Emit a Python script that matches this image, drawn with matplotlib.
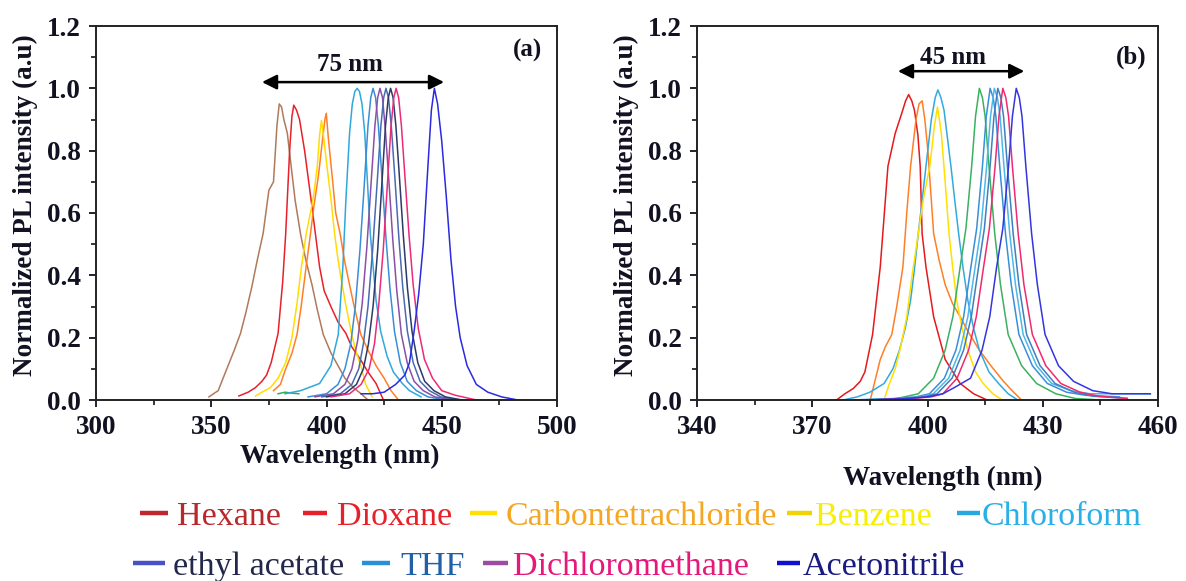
import matplotlib
matplotlib.use("Agg")
import matplotlib.pyplot as plt
from matplotlib.lines import Line2D
from matplotlib.ticker import MultipleLocator, FixedLocator, FormatStrFormatter

plt.rcParams['font.family'] = ['Liberation Serif', 'DejaVu Serif']

# ---------------- Panel (a) data ----------------
a_hexane_x = [349, 353, 356, 360, 362.7, 365, 367.6, 370, 372.5, 375, 377, 378.5, 379.5, 380.5, 381.5, 383,
              386.4, 388.8, 391, 393.7, 396, 398.6, 402, 405, 408, 411.6, 415, 418]
a_hexane_y = [0.01, 0.03, 0.086, 0.16, 0.214, 0.28, 0.363, 0.45, 0.534, 0.673, 0.70, 0.88, 0.95, 0.94, 0.9,
              0.856, 0.64, 0.53, 0.45, 0.37, 0.29, 0.21, 0.15, 0.11, 0.07, 0.04, 0.02, 0.0]

a_dioxane_x = [362, 366, 369.2, 372, 374, 376, 379, 381, 382.3, 384, 385, 385.8, 387, 388.3, 390.5, 393.7,
               397, 399, 401.9, 405, 408.4, 411, 414.9, 418, 421.5, 424.7]
a_dioxane_y = [0.013, 0.025, 0.04, 0.06, 0.08, 0.12, 0.214, 0.38, 0.534, 0.80, 0.91, 0.946, 0.93, 0.90,
               0.80, 0.62, 0.427, 0.35, 0.30, 0.25, 0.214, 0.17, 0.128, 0.09, 0.053, 0.0]

a_ccl4_x = [369.2, 372, 375.7, 379, 382.3, 385, 387.2, 389, 391.2, 393, 394.5, 396, 397, 397.8, 398.8,
            400.2, 402, 403.5, 405, 406.8, 408.5, 410.8, 413, 414.9, 417, 419.8]
a_ccl4_y = [0.013, 0.025, 0.04, 0.07, 0.12, 0.2, 0.31, 0.42, 0.534, 0.6, 0.66, 0.75, 0.85, 0.897, 0.84,
            0.75, 0.64, 0.534, 0.45, 0.37, 0.3, 0.214, 0.15, 0.11, 0.05, 0.01]

a_benzene_x = [377, 380, 382.3, 385, 387.2, 389, 391.2, 393, 394.5, 396.5, 398.5, 399.3, 399.9, 400.8,
               402.7, 404, 405.9, 408, 410, 412, 414.9, 418, 421.5, 425, 428, 431.2]
a_benzene_y = [0.03, 0.05, 0.1, 0.15, 0.21, 0.3, 0.43, 0.53, 0.62, 0.72, 0.85, 0.9, 0.92, 0.84,
               0.70, 0.6, 0.534, 0.44, 0.37, 0.3, 0.21, 0.16, 0.11, 0.07, 0.03, 0.0]

a_green_x = [379, 382, 385, 388]
a_green_y = [0.02, 0.025, 0.022, 0.02]

a_chloroform_x = [382, 388.8, 397, 401.9, 405.1, 407.1, 408.4, 410, 411.2, 412.3, 413.3, 414.3, 415.4,
                  416.6, 419, 421.5, 423.5, 426.3, 429, 432.9, 436, 441]
a_chloroform_y = [0.02, 0.03, 0.053, 0.11, 0.21, 0.427, 0.64, 0.856, 0.95, 0.99, 1.0, 0.99, 0.95,
                  0.856, 0.534, 0.32, 0.22, 0.14, 0.09, 0.053, 0.03, 0.01]

a_thf_x = [392, 400, 405, 408, 410.5, 412.5, 414.5, 416.3, 418, 419.2, 420.2, 421.3, 422.5, 424, 425.8,
           427.5, 429.5, 432, 435, 439, 444, 452]
a_thf_y = [0.01, 0.02, 0.05, 0.1, 0.18, 0.3, 0.48, 0.68, 0.88, 0.97, 1.0, 0.97, 0.88, 0.72, 0.52,
           0.36, 0.22, 0.12, 0.06, 0.03, 0.01, 0.0]

a_ethyl_x = [395, 403, 408, 411, 413.5, 415.5, 417.5, 419.3, 421, 422.2, 423.2, 424.3, 425.5, 427, 428.8,
             430.5, 432.5, 435, 438, 442, 447, 455]
a_ethyl_y = [0.01, 0.02, 0.05, 0.1, 0.19, 0.31, 0.49, 0.69, 0.88, 0.97, 1.0, 0.97, 0.87, 0.71, 0.51,
             0.35, 0.21, 0.12, 0.06, 0.03, 0.01, 0.0]

a_steel_x = [398, 406, 411, 414, 416, 418, 420, 422, 423.6, 424.8, 425.8, 426.9, 428.1, 429.6, 431.4,
             433.1, 435.1, 437.6, 440.6, 444.6, 449.6, 457]
a_steel_y = [0.01, 0.02, 0.05, 0.1, 0.18, 0.3, 0.48, 0.7, 0.88, 0.97, 1.0, 0.97, 0.88, 0.72, 0.52,
             0.36, 0.22, 0.12, 0.06, 0.03, 0.01, 0.0]

a_navy_x = [400, 408, 413, 416, 418.2, 420.2, 422.2, 424, 425.6, 426.8, 427.8, 428.9, 430.1, 431.6, 433.4,
            435.1, 437.1, 439.6, 442.6, 446.6, 451.6, 459]
a_navy_y = [0.01, 0.02, 0.05, 0.1, 0.18, 0.3, 0.48, 0.69, 0.88, 0.97, 1.0, 0.97, 0.88, 0.72, 0.52,
            0.36, 0.22, 0.12, 0.06, 0.03, 0.01, 0.0]

a_dcm_x = [402, 410, 415, 418.5, 420.8, 422.6, 424.6, 426.4, 428, 429.2, 430.2, 431.3, 432.5, 434, 435.8,
           437.6, 439.8, 442.5, 446, 450, 456, 465]
a_dcm_y = [0.01, 0.02, 0.05, 0.1, 0.18, 0.3, 0.48, 0.69, 0.88, 0.97, 1.0, 0.97, 0.88, 0.72, 0.53,
           0.37, 0.23, 0.13, 0.07, 0.03, 0.015, 0.0]

a_acn_x = [415, 420, 425, 430, 434, 436, 438, 440, 442, 444, 445.5, 446.8, 448.2, 450, 452, 454, 456, 458,
           461, 465, 470, 476, 483]
a_acn_y = [0.02, 0.02, 0.025, 0.05, 0.08, 0.12, 0.22, 0.34, 0.5, 0.75, 0.93, 1.0, 0.95, 0.83, 0.65, 0.45,
           0.3, 0.2, 0.11, 0.05, 0.025, 0.01, 0.0]

# ---------------- Panel (b) data ----------------
b_red_x = [376.3, 378.5, 380.7, 382.5, 383.7, 385.7, 387.7, 389.7, 391.6, 393.3, 394.3, 395.1, 395.9, 396.6,
           397.5, 398.1, 398.6, 399.6, 401.6, 404.6, 408.5, 412, 415.5]
b_red_y = [0.0, 0.02, 0.037, 0.06, 0.09, 0.21, 0.427, 0.75, 0.856, 0.92, 0.96, 0.98, 0.96, 0.93,
           0.85, 0.75, 0.534, 0.427, 0.267, 0.13, 0.053, 0.02, 0.0]

b_orange_x = [385.2, 386.5, 387.7, 389, 390.7, 392, 393.6, 394.6, 395.6, 397, 397.8, 398.6, 399.3, 400.1,
              401.6, 403, 404.6, 406.5, 408.5, 411, 413.5, 416.5, 419.5, 422, 424.5]
b_orange_y = [0.005, 0.07, 0.13, 0.17, 0.21, 0.3, 0.427, 0.6, 0.75, 0.9, 0.95, 0.96, 0.9, 0.80,
              0.534, 0.45, 0.37, 0.31, 0.267, 0.21, 0.16, 0.11, 0.064, 0.03, 0.0]

b_lblue_x = [378, 381.7, 385, 388.7, 391, 392.7, 394.2, 395.6, 396.6, 397.6, 398.6, 399.6, 401, 402, 402.7,
             403.5, 404.3, 406.1, 407.1, 408.1, 409.3, 410.5, 412, 413.5, 416, 418.5, 421, 423.5]
b_lblue_y = [0.0, 0.01, 0.025, 0.053, 0.1, 0.16, 0.23, 0.32, 0.42, 0.534, 0.64, 0.75, 0.9, 0.97, 0.995,
             0.97, 0.93, 0.75, 0.64, 0.534, 0.42, 0.32, 0.23, 0.16, 0.09, 0.053, 0.02, 0.0]

b_yellow_x = [388.7, 390, 391.6, 393, 394.6, 396, 397.6, 399, 400.6, 401.8, 402.6, 403.6, 404.6, 405.6, 406.6,
              407.6, 409, 410.5, 412.5, 414.5, 417, 419.5]
b_yellow_y = [0.0, 0.05, 0.1, 0.17, 0.267, 0.4, 0.534, 0.65, 0.75, 0.88, 0.94, 0.856, 0.7, 0.534, 0.42,
              0.32, 0.23, 0.16, 0.09, 0.053, 0.02, 0.0]

b_green_x = [378, 389.7, 394, 397.6, 401.6, 404.6, 406.6, 408.5, 410, 411.5, 412.5, 413.5, 414.3, 415, 416,
             417.5, 419, 421, 424.5, 428.4, 433.4, 438.4, 445]
b_green_y = [0.0, 0.0, 0.01, 0.02, 0.07, 0.16, 0.267, 0.427, 0.55, 0.75, 0.91, 1.0, 0.97, 0.91, 0.75,
             0.534, 0.37, 0.21, 0.11, 0.053, 0.02, 0.005, 0.0]

b_thf_x = [380, 392, 397, 400.5, 404.4, 407.4, 409.4, 411.3, 412.8, 414.3, 415.3, 416.3, 417.1, 417.8, 418.8,
           420.3, 421.8, 423.8, 427.3, 431.2, 436.2, 441.2, 450]
b_thf_y = [0.0, 0.005, 0.01, 0.02, 0.07, 0.16, 0.267, 0.427, 0.55, 0.75, 0.91, 1.0, 0.97, 0.91, 0.75,
           0.534, 0.37, 0.21, 0.11, 0.053, 0.025, 0.015, 0.01]

b_cyan_x = [382, 393, 398, 401.5, 405.5, 408.5, 410.5, 412.4, 413.9, 415.4, 416.4, 417.4, 418.2, 418.9, 419.9,
            421.4, 422.9, 424.9, 428.4, 432.3, 437.3, 442.3, 450, 458]
b_cyan_y = [0.0, 0.005, 0.01, 0.02, 0.07, 0.16, 0.267, 0.427, 0.55, 0.75, 0.91, 1.0, 0.97, 0.91, 0.75,
            0.534, 0.37, 0.21, 0.11, 0.053, 0.03, 0.02, 0.02, 0.02]

b_teal_x = [383, 394, 399, 402.5, 406.4, 409.4, 411.4, 413.3, 414.8, 416.3, 417.3, 418.3, 419.1, 419.8, 420.8,
            422.3, 423.8, 425.8, 429.3, 433.2, 438.2, 443.2, 452]
b_teal_y = [0.0, 0.005, 0.01, 0.02, 0.07, 0.16, 0.267, 0.427, 0.55, 0.75, 0.91, 1.0, 0.97, 0.91, 0.75,
            0.534, 0.37, 0.21, 0.11, 0.053, 0.025, 0.012, 0.005]

b_pink_x = [385, 396, 401, 404, 407.7, 410.7, 412.7, 414.6, 416.1, 417.6, 418.6, 419.6, 420.4, 421.1, 422.1,
            423.6, 425.1, 427.3, 430.8, 434.7, 439.7, 444.7, 452]
b_pink_y = [0.0, 0.005, 0.01, 0.02, 0.07, 0.16, 0.267, 0.427, 0.55, 0.75, 0.91, 1.0, 0.97, 0.91, 0.75,
            0.534, 0.37, 0.21, 0.11, 0.053, 0.025, 0.012, 0.005]

b_acn_x = [385, 395, 400, 404, 407, 411.2, 414.2, 416.2, 418, 419.6, 421.1, 422.1, 423.1, 423.9, 424.6, 425.6,
           427.1, 428.6, 430.6, 434.1, 438, 443, 448, 453, 458]
b_acn_y = [0.0, 0.005, 0.01, 0.02, 0.04, 0.07, 0.16, 0.267, 0.427, 0.55, 0.75, 0.91, 1.0, 0.97, 0.91, 0.75,
           0.534, 0.37, 0.21, 0.11, 0.06, 0.03, 0.02, 0.02, 0.02]

# axis ticks
a_xticks = [300, 350, 400, 450, 500]
b_xticks = [340, 370, 400, 430, 460]
y_ticks = [0.0, 0.2, 0.4, 0.6, 0.8, 1.0, 1.2]

# legend entries
legend_names = ["Hexane", "Dioxane", "Carbontetrachloride", "Benzene", "Chloroform",
                "ethyl acetate", "THF", "Dichloromethane", "Acetonitrile"]
legend_marker_colors = ['#c0282d', '#e8202a', '#ffe000', '#f2d200', '#29a8e0',
                        '#4a50c8', '#2a8fd8', '#9b4ea0', '#1010d0']
legend_text_colors = ['#b8282d', '#e8202a', '#f5a623', '#f7ef00', '#29b0e8',
                      '#23284a', '#2060a8', '#e6197a', '#1a1a80']

# ---------------- figure ----------------
W, H = 1186, 581
fig = plt.figure(figsize=(W / 100, H / 100), dpi=100)

def fx(px):
    return px / W

def fy(py):
    return 1 - py / H

axa = fig.add_axes([fx(96), fy(400), fx(557) - fx(96), fy(26) - fy(400)])
axb = fig.add_axes([fx(697), fy(400), fx(1158) - fx(697), fy(26) - fy(400)])

lw = 1.1
a_series = [
    (a_hexane_x, a_hexane_y, '#b07a5a'),
    (a_dioxane_x, a_dioxane_y, '#e8202a'),
    (a_benzene_x, a_benzene_y, '#ff7f27'),
    (a_ccl4_x, a_ccl4_y, '#ffdd00'),
    (a_green_x, a_green_y, '#2fb050'),
    (a_chloroform_x, a_chloroform_y, '#2fa8dc'),
    (a_thf_x, a_thf_y, '#3a8ed8'),
    (a_ethyl_x, a_ethyl_y, '#8a4fa6'),
    (a_steel_x, a_steel_y, '#4a6ab2'),
    (a_navy_x, a_navy_y, '#2c3a66'),
    (a_dcm_x, a_dcm_y, '#ec2a78'),
    (a_acn_x, a_acn_y, '#2a2ae0'),
]
for x, y, c in a_series:
    axa.plot(x, y, color=c, lw=lw)

b_series = [
    (b_red_x, b_red_y, '#e41a1c'),
    (b_orange_x, b_orange_y, '#ff7f27'),
    (b_lblue_x, b_lblue_y, '#33aadd'),
    (b_yellow_x, b_yellow_y, '#ffe000'),
    (b_green_x, b_green_y, '#3cb060'),
    (b_thf_x, b_thf_y, '#3a8ed8'),
    (b_cyan_x, b_cyan_y, '#4db8e8'),
    (b_teal_x, b_teal_y, '#3f7fc0'),
    (b_pink_x, b_pink_y, '#ef2a6e'),
    (b_acn_x, b_acn_y, '#3535e0'),
]
for x, y, c in b_series:
    axb.plot(x, y, color=c, lw=lw)

txt_color = '#111122'

for ax, xlim, xt in [(axa, (300, 500), a_xticks), (axb, (340, 460), b_xticks)]:
    ax.set_xlim(*xlim)
    ax.set_ylim(0, 1.2)
    ax.xaxis.set_major_locator(FixedLocator(xt))
    minors = [(xt[i] + xt[i + 1]) / 2 for i in range(len(xt) - 1)]
    ax.xaxis.set_minor_locator(FixedLocator(minors))
    ax.yaxis.set_major_locator(FixedLocator(y_ticks))
    ax.yaxis.set_minor_locator(MultipleLocator(0.1))
    ax.yaxis.set_major_formatter(FormatStrFormatter('%.1f'))
    ax.xaxis.set_major_formatter(FormatStrFormatter('%d'))
    ax.tick_params(which='major', direction='out', length=5, width=1.3, pad=6, colors=txt_color)
    ax.tick_params(which='minor', direction='out', length=3.5, width=1.1)
    for lab in ax.get_xticklabels() + ax.get_yticklabels():
        lab.set_fontfamily('Liberation Serif')
        lab.set_fontweight('bold')
        lab.set_fontsize(19.5)
    for s in ax.spines.values():
        s.set_linewidth(1.4)
        s.set_color('#222222')
    ax.set_ylabel('Normalized PL intensity (a.u)', fontsize=19.5, fontweight='bold', color=txt_color)
    ax.yaxis.set_label_coords(-0.154, 0.52)
    ax.yaxis.label.set_verticalalignment('center')
    ax.yaxis.label.set_horizontalalignment('center')

axa.set_xlabel('Wavelength (nm)', fontsize=19.5, fontweight='bold', color=txt_color)
axa.xaxis.set_label_coords(0.529, -0.152)
axa.xaxis.label.set_verticalalignment('center')
axb.set_xlabel('Wavelength (nm)', fontsize=19.5, fontweight='bold', color=txt_color)
axb.xaxis.set_label_coords(0.534, -0.209)
axb.xaxis.label.set_verticalalignment('center')

# annotations
arrow_kw = dict(arrowstyle='<|-|>', color='black', lw=1.8, mutation_scale=22, shrinkA=0, shrinkB=0)
axa.annotate('', xy=(451, 1.02), xytext=(372, 1.02), arrowprops=arrow_kw)
axa.text(410, 1.075, '75 nm', ha='center', va='center', fontsize=18, fontweight='bold', color=txt_color)
axa.text(487, 1.12, '(a)', ha='center', va='center', fontsize=18, fontweight='bold', color=txt_color)

axb.annotate('', xy=(425.2, 1.055), xytext=(392.3, 1.055), arrowprops=arrow_kw)
axb.text(406.7, 1.10, '45 nm', ha='center', va='center', fontsize=18, fontweight='bold', color=txt_color)
axb.text(453, 1.10, '(b)', ha='center', va='center', fontsize=18, fontweight='bold', color=txt_color)

# custom legend (pixel positions)
marker_px = [(140, 168), (303, 327), (470, 497), (787, 812), (957, 980),
             (133, 165), (362, 390), (483, 508), (777, 800)]
text_px = [177, 337, 506, 815, 982, 173, 400, 513, 803]
row_y = [513, 513, 513, 513, 513, 563, 563, 563, 563]
for name, mc, tc, (m0, m1), tx, ry in zip(legend_names, legend_marker_colors, legend_text_colors,
                                          marker_px, text_px, row_y):
    fig.add_artist(Line2D([fx(m0), fx(m1)], [fy(ry), fy(ry)], transform=fig.transFigure,
                          color=mc, lw=3.2, solid_capstyle='butt'))
    fig.text(fx(tx), fy(ry), name, ha='left', va='center_baseline', fontsize=24.5,
             family='Liberation Serif', color=tc)

fig.savefig('out.png', dpi=100)
